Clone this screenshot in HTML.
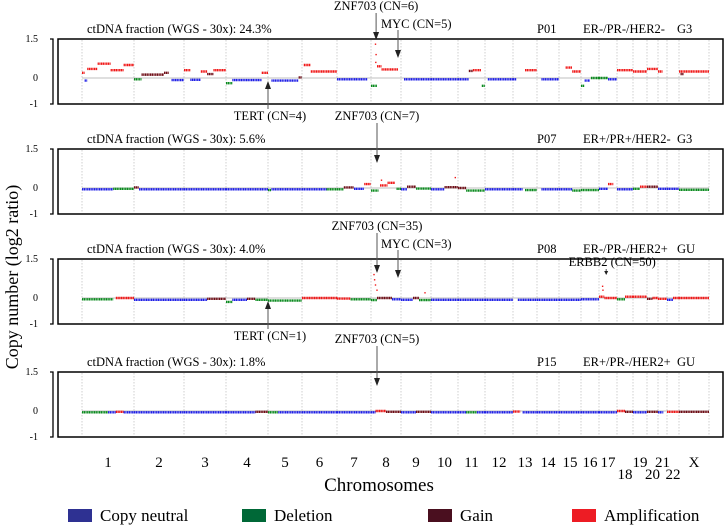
<!DOCTYPE html>
<html><head><meta charset="utf-8"><style>
html,body{margin:0;padding:0;background:#fff;}
svg{display:block;font-family:"Liberation Serif",serif;}
</style></head><body>
<svg id="c" width="725" height="525" viewBox="0 0 725 525" xmlns="http://www.w3.org/2000/svg"></svg>
<script>
const chromNames = ["1","2","3","4","5","6","7","8","9","10","11","12","13","14","15","16","17","18","19","20","21","22","X"];
const chromSizes = [52,50,42,42,34,35,34,30,30,27,27,28,24,22,22,18,18,16,14,11,9,12,30];
const yTicks = [1.5,0,-1];
const panelInfo = [
 {ct:"ctDNA fraction (WGS - 30x): 24.3%", id:"P01", rec:"ER-/PR-/HER2-", grade:"G3"},
 {ct:"ctDNA fraction (WGS - 30x): 5.6%", id:"P07", rec:"ER+/PR+/HER2-", grade:"G3"},
 {ct:"ctDNA fraction (WGS - 30x): 4.0%", id:"P08", rec:"ER-/PR-/HER2+", grade:"GU"},
 {ct:"ctDNA fraction (WGS - 30x): 1.8%", id:"P15", rec:"ER+/PR-/HER2+", grade:"GU"}
];
// segments: [chrom, startFrac, endFrac, log2 value, class]
const seg1 = [[1,0,0.05,0.2,"a"],[1,0.05,0.1,-0.1,"n"],[1,0.1,0.3,0.35,"a"],[1,0.3,0.55,0.55,"a"],[1,0.55,0.8,0.3,"a"],[1,0.8,1,0.5,"a"],
[2,0,0.15,-0.05,"d"],[2,0.15,0.6,0.13,"g"],[2,0.6,0.7,0.2,"g"],[2,0.75,1,-0.08,"n"],
[3,0,0.15,0.3,"a"],[3,0.15,0.4,-0.07,"n"],[3,0.4,0.55,0.25,"a"],[3,0.55,0.7,0.15,"g"],[3,0.7,1,0.3,"a"],
[4,0,0.15,-0.2,"d"],[4,0.15,0.85,-0.08,"n"],[4,0.85,1,0.2,"a"],[5,0.1,0.9,-0.1,"n"],[5,0.9,1,0.02,"g"],
[6,0.05,0.25,0.5,"a"],[6,0.25,1,0.25,"a"],[7,0,0.9,-0.05,"n"],
[8,0,0.2,-0.3,"d"],[8,0.2,0.35,0.45,"a"],[8,0.35,0.9,0.33,"a"],[9,0.1,1,-0.05,"n"],[10,0,1,-0.05,"n"],
[11,0,0.4,-0.05,"n"],[11,0.4,0.55,0.27,"g"],[11,0.55,0.85,0.3,"a"],[11,0.88,1,-0.3,"d"],[12,0.1,1,-0.05,"n"],
[13,0,0.15,-0.05,"n"],[13,0.5,1,0.3,"a"],[14,0.2,1,-0.05,"n"],[15,0.3,0.6,0.4,"a"],[15,0.6,1,0.25,"a"],
[16,0,0.2,-0.3,"d"],[16,0.2,0.5,-0.1,"n"],[16,0.55,1,0.0,"d"],[17,0,0.5,0.0,"d"],[17,0.5,1,-0.05,"n"],
[18,0,1,0.3,"a"],[19,0,1,0.25,"a"],[20,0,1,0.35,"a"],[21,0,0.5,0.25,"a"],[23,0,1,0.25,"a"],[23,0.05,0.15,0.15,"g"]];
const seg2 = [[1,0,0.6,-0.05,"n"],[1,0.6,1,-0.03,"d"],[2,0,0.1,0.02,"g"],[2,0.1,1,-0.05,"n"],[3,0,1,-0.05,"n"],[4,0,1,-0.05,"n"],
[5,0,0.1,-0.08,"d"],[5,0.1,1,-0.05,"n"],[6,0,0.7,-0.05,"n"],[6,0.7,1,-0.05,"d"],[7,0,0.2,-0.05,"d"],[7,0.2,0.5,0.02,"g"],
[7,0.5,0.8,-0.03,"n"],[7,0.8,1,0.15,"a"],[8,0,0.25,-0.1,"d"],[8,0.3,0.55,0.1,"a"],[8,0.55,0.8,0.2,"a"],[8,0.85,1,-0.03,"d"],
[9,0,0.2,-0.05,"n"],[9,0.2,0.5,0.05,"g"],[9,0.5,1,-0.02,"d"],[10,0,0.5,-0.05,"n"],[10,0.5,1,0.03,"g"],[11,0,0.3,0.0,"g"],
[11,0.3,1,-0.1,"d"],[12,0,1,-0.05,"n"],[13,0,0.4,-0.05,"n"],[13,0.5,1,-0.08,"d"],[14,0.2,1,-0.05,"n"],[15,0,0.6,-0.05,"n"],
[15,0.6,1,-0.1,"d"],[16,0,1,-0.08,"d"],[17,0,0.5,-0.03,"n"],[17,0.5,0.8,0.15,"a"],[18,0,1,-0.05,"n"],[19,0,0.5,-0.03,"d"],
[19,0.5,1,0.05,"a"],[20,0,1,0.05,"g"],[21,0,1,-0.03,"n"],[22,0,1,-0.03,"n"],[23,0,1,-0.07,"d"]];
const seg3 = [[1,0,0.6,-0.05,"d"],[1,0.65,1,0.0,"a"],[2,0,1,-0.07,"n"],[3,0,0.55,-0.07,"n"],[3,0.55,1,-0.03,"g"],
[4,0,0.15,-0.15,"d"],[4,0.15,0.5,-0.07,"n"],[4,0.5,0.7,-0.03,"g"],[4,0.7,1,-0.07,"d"],[5,0,1,-0.1,"d"],[6,0,1,0.0,"a"],
[7,0,0.4,-0.02,"a"],[7,0.4,1,-0.05,"d"],[8,0,0.2,-0.08,"d"],[8,0.2,0.7,0.0,"g"],[8,0.7,1,-0.05,"n"],[9,0,0.4,-0.07,"n"],
[9,0.4,0.6,0.0,"g"],[9,0.6,1,-0.08,"d"],[10,0,1,-0.07,"n"],[11,0,1,-0.07,"n"],[12,0,1,-0.07,"n"],[13,0.2,1,-0.07,"n"],
[14,0,1,-0.07,"n"],[15,0,1,-0.07,"n"],[16,0,1,-0.05,"n"],[17,0,0.3,0.05,"a"],[17,0.3,1,0.0,"a"],[18,0,0.5,-0.05,"d"],
[18,0.5,1,0.05,"a"],[19,0,1,0.05,"a"],[20,0,0.5,-0.03,"g"],[20,0.5,1,0.0,"a"],[21,0,1,-0.03,"a"],[22,0,0.5,-0.07,"n"],
[22,0.5,1,0.0,"a"],[23,0,1,0.0,"a"]];
const seg4 = [[1,0,0.5,-0.05,"d"],[1,0.5,0.65,-0.05,"n"],[1,0.65,0.8,-0.03,"a"],[1,0.8,1,-0.05,"n"],[2,0,1,-0.05,"n"],[3,0,1,-0.05,"n"],
[4,0,0.7,-0.05,"n"],[4,0.7,1,-0.03,"g"],[5,0,0.3,-0.05,"d"],[5,0.3,1,-0.05,"n"],[6,0,1,-0.05,"n"],[7,0,1,-0.05,"n"],
[8,0,0.15,-0.05,"n"],[8,0.15,0.5,0.0,"a"],[8,0.5,1,-0.03,"g"],[9,0,0.5,-0.05,"n"],[9,0.5,1,-0.03,"g"],[10,0,1,-0.05,"n"],
[11,0,0.3,-0.05,"n"],[11,0.3,0.7,-0.05,"d"],[11,0.7,1,-0.05,"n"],[12,0,1,-0.05,"n"],[13,0,0.3,-0.02,"a"],[13,0.4,1,-0.05,"n"],
[14,0,1,-0.05,"n"],[15,0,1,-0.05,"n"],[16,0,1,-0.05,"n"],[17,0,1,-0.05,"n"],[18,0,0.5,0.0,"a"],[18,0.5,1,-0.03,"g"],
[19,0,1,-0.05,"n"],[20,0,1,-0.03,"g"],[21,0,0.6,-0.05,"n"],[22,0,1,-0.03,"a"],[23,0,1,-0.03,"g"]];
const segments = [seg1,seg2,seg3,seg4];
// outlier points: [panel, chrom, frac, value, class]
const outliers = [[0,8,0.15,1.3,"a"],[0,8,0.17,0.9,"a"],[0,8,0.16,0.6,"a"],[1,8,0.35,0.3,"a"],[1,10,0.9,0.4,"a"],
[2,8,0.1,0.9,"a"],[2,8,0.12,0.7,"a"],[2,8,0.15,0.5,"a"],[2,8,0.2,0.3,"a"],[2,9,0.8,0.2,"a"],[2,17,0.2,0.45,"a"],[2,17,0.22,0.3,"a"]];
// annotations: [panel, label, chrom, frac, kind]
const annots = [[0,"ZNF703 (CN=6)",8,0.17,"top"],[0,"MYC (CN=5)",8,0.9,"mid"],[0,"TERT (CN=4)",5,0,"bottom"],
[1,"ZNF703 (CN=7)",8,0.2,"top"],
[2,"ZNF703 (CN=35)",8,0.2,"top"],[2,"MYC (CN=3)",8,0.9,"mid"],[2,"ERBB2 (CN=50)",17,0.4,"small"],[2,"TERT (CN=1)",5,0,"bottom"],
[3,"ZNF703 (CN=5)",8,0.2,"top"]];

const NS="http://www.w3.org/2000/svg";
const svg=document.getElementById('c');
function mk(tag,attrs,parent){const e=document.createElementNS(NS,tag);for(const k in attrs)e.setAttribute(k,attrs[k]);(parent||svg).appendChild(e);return e;}
const X0=82, XW=627, total=chromSizes.reduce((a,b)=>a+b,0);
const starts=[];let acc=0;chromSizes.forEach(s=>{starts.push(acc);acc+=s;});
function xPos(ch,f){return X0+(starts[ch-1]+f*chromSizes[ch-1])/total*XW;}
const tops=[39,149,259,372], PH=65;
function yPos(p,v){return tops[p]+(1.5-v)/2.5*PH;}
const colors={n:"#1f1fe6",d:"#0a8a1e",g:"#6e0d16",a:"#f01818"};

tops.forEach((top,p)=>{
  const g=mk('g',{});
  
  
  const ax=mk('path',{d:`M50 ${top} H53 V${top+PH} H50`,stroke:'#000','stroke-width':1.3,fill:'none'},g);
  
  yTicks.forEach(t=>{
    const tl=mk('text',{x:38,y:yPos(p,t)+3,'font-size':10,'text-anchor':'end',fill:'#000'},g);
    tl.textContent=String(t);
    
  });
  for(let i=0;i<=chromSizes.length;i++){
    const x=X0+(i<chromSizes.length?starts[i]:total)/total*XW;
    const gl=mk('line',{x1:x,x2:x,y1:top+1,y2:top+PH-1,stroke:'#bbb','stroke-width':0.7,'stroke-dasharray':'1.5 1.5'},g);
    
  }
  const zl=mk('line',{x1:X0,x2:X0+XW,y1:yPos(p,0),y2:yPos(p,0),stroke:'#aaa','stroke-width':0.8},g);
  
  segments[p].forEach(s=>{
    const x1=xPos(s[0],s[1]),x2=xPos(s[0],s[2]),y=yPos(p,s[3]);
    const r=mk('line',{x1:x1,x2:x2,y1:y,y2:y,stroke:colors[s[4]],'stroke-width':2.4,'stroke-dasharray':'1.3 0.4'},g);
    
    
  });
  outliers.filter(o=>o[0]===p).forEach(o=>{
    const c=mk('rect',{x:xPos(o[1],o[2])-0.7,y:yPos(p,o[3])-0.7,width:1.4,height:1.4,fill:colors[o[4]]},g);
    
    
  });
  const fr=mk('rect',{x:58,y:top,width:665,height:PH,fill:'none',stroke:'#000','stroke-width':1.5},g);
  
  const info=panelInfo[p];
  const t1=mk('text',{x:87,y:top-6,'font-size':12.5},g);t1.textContent=info.ct;
  
  const t2=mk('text',{x:537,y:top-6,'font-size':12.5},g);t2.textContent=info.id;
  
  const t3=mk('text',{x:583,y:top-6,'font-size':12.5},g);t3.textContent=info.rec;
  
  const t4=mk('text',{x:677,y:top-6,'font-size':12.5},g);t4.textContent=info.grade;
  
});

function arrow(x,y1,y2,hs){
  hs=hs||8;
  const dir=y2>y1?1:-1;
  const l=mk('line',{x1:x,x2:x,y1:y1,y2:y2-dir*(hs-3),stroke:'#555','stroke-width':1});
  
  const w=hs>5?3:2;
  const h=mk('path',{d:`M${x-w} ${y2-dir*hs} L${x} ${y2} L${x+w} ${y2-dir*hs} Z`,fill:'#222'});
  
}
annots.forEach(a=>{
  const p=a[0],top=tops[p],x=xPos(a[2],a[3]);
  let tx,ty,anchor='middle';
  if(a[4]==='top'){tx=x;ty=top-29;arrow(x,top-26,top+1+(p===0?0:13));}
  else if(a[4]==='mid'){tx=x-17;ty=top-11;anchor='start';arrow(x,top-9,top+19);}
  else if(a[4]==='small'){tx=x+6;ty=top+7;arrow(x,top+10,top+16,4);}
  else {tx=x+2;ty=top+81;arrow(x,top+70,top+42);}
  const t=mk('text',{x:tx,y:ty,'font-size':12.5,'text-anchor':anchor});
  t.textContent=a[1];
  
  
});

const lowRow=["18","20","22"];
chromNames.forEach((n,i)=>{
  const x=xPos(i+1,0.5);
  const t=mk('text',{x:x,y:lowRow.includes(n)?479:467,'font-size':15,'text-anchor':'middle'});
  t.textContent=n;
  
  
});
const xt=mk('text',{x:379,y:491,'font-size':19,'text-anchor':'middle'});xt.textContent='Chromosomes';

const yt=mk('text',{x:0,y:0,'font-size':18,'text-anchor':'middle',transform:'translate(18,277) rotate(-90)'});
yt.textContent='Copy number (log2 ratio)';


const legend=[["Copy neutral","#2e3192",68],["Deletion","#006837",242],["Gain","#4a0f1f",428],["Amplification","#ed1c24",572]];
legend.forEach(l=>{
  const r=mk('rect',{x:l[2],y:509,width:24,height:13,fill:l[1]});
  
  const t=mk('text',{x:l[2]+32,y:521,'font-size':17});t.textContent=l[0];
  
});
</script>
</body></html>
